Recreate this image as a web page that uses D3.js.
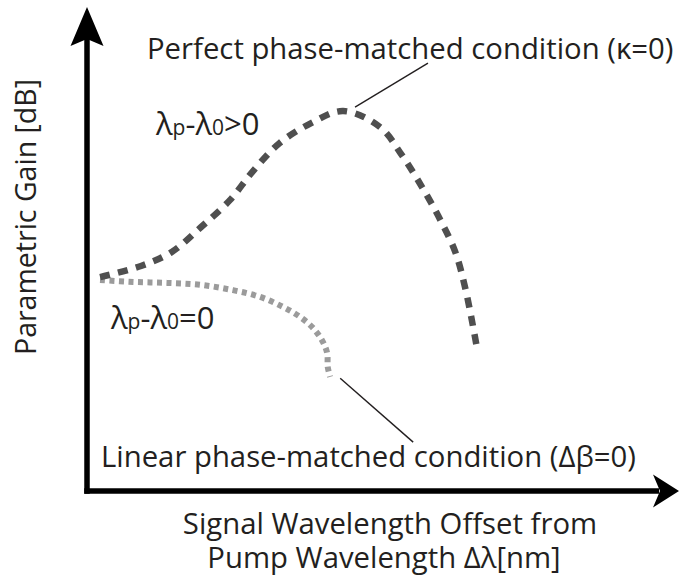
<!DOCTYPE html>
<html>
<head>
<meta charset="utf-8">
<script src="https://cdn.jsdelivr.net/npm/d3@7/dist/d3.min.js"></script>
<style>
  html, body { margin: 0; padding: 0; background: #fff; }
  svg { display: block; }
  text { font-family: "Open Sans", "DejaVu Sans", sans-serif; fill: #231f20; }
</style>
</head>
<body>
<svg id="chart" width="680" height="577"></svg>
<script>
// Schematic gain curves: parametric gain vs. signal offset from the pump
// (arbitrary units, 0..10 on both axes).

// λp − λ0 > 0 : perfect phase matching (κ = 0), dashed curve
const offsetPerfect = [0.22, 0.91, 1.43, 1.92, 2.41, 2.80, 3.25, 3.78, 4.32, 4.94, 5.31, 5.65, 5.95, 6.21, 6.39, 6.58];
const gainPerfect   = [4.42, 4.65, 4.94, 5.45, 6.01, 6.61, 7.19, 7.60, 7.85, 7.52, 6.94, 6.28, 5.62, 4.94, 4.13, 2.93];

// λp − λ0 = 0 : linear phase matching (Δβ = 0), dotted curve
const offsetLinear = [0.22, 0.78, 1.35, 1.91, 2.46, 2.92, 3.31, 3.59, 3.81, 3.96, 4.05, 4.06, 4.10];
const gainLinear   = [4.36, 4.32, 4.30, 4.26, 4.15, 4.01, 3.80, 3.60, 3.37, 3.12, 2.85, 2.56, 2.36];

// Leader lines from each curve to its description: [x0, y0, x1, y1]
const leaderPerfect = [4.52, 7.93, 5.75, 8.84];
const leaderLinear  = [4.27, 2.33, 5.50, 1.01];

const labels = {
  perfect: "Perfect phase-matched condition (\u03BA=0)",
  linear: "Linear phase-matched condition (\u0394\u03B2=0)",
  xTitle: ["Signal Wavelength Offset from", "Pump Wavelength \u0394\u03BB[nm]"],
  yTitle: "Parametric Gain [dB]"
};

const svg = d3.select("#chart");

const x = d3.scaleLinear().domain([0, 10]).range([87, 680]);
const y = d3.scaleLinear().domain([0, 10]).range([491, 7]);

// ---- axes with arrow heads ----
const axisW = 5.5;
const x0 = x(0), y0 = y(0);
const yTip = y(10), xTip = x(10) - 1;

svg.append("line")
  .attr("x1", x0).attr("y1", y0 + axisW / 2)
  .attr("x2", x0).attr("y2", yTip + 30)
  .attr("stroke", "#000").attr("stroke-width", axisW);
svg.append("line")
  .attr("x1", x0 - axisW / 2).attr("y1", y0)
  .attr("x2", xTip - 20).attr("y2", y0)
  .attr("stroke", "#000").attr("stroke-width", axisW);

// upward arrow head
svg.append("path")
  .attr("d", `M${x0},${yTip} L${x0 + 16.5},${yTip + 39} L${x0},${yTip + 32} L${x0 - 16.5},${yTip + 39} Z`)
  .attr("fill", "#000");
// rightward arrow head
svg.append("path")
  .attr("d", `M${xTip},${y0} L${xTip - 26},${y0 + 16.5} L${xTip - 19},${y0} L${xTip - 26},${y0 - 16.5} Z`)
  .attr("fill", "#000");

// ---- curves ----
const line = d3.line()
  .x(d => x(d[0]))
  .y(d => y(d[1]))
  .curve(d3.curveCatmullRom.alpha(0.5));

const perfectPts = offsetPerfect.map((v, i) => [v, gainPerfect[i]]);
const linearPts = offsetLinear.map((v, i) => [v, gainLinear[i]]);

svg.append("path")
  .datum(linearPts)
  .attr("d", line)
  .attr("fill", "none")
  .attr("stroke", "#9b9b9b")
  .attr("stroke-width", 6)
  .attr("stroke-dasharray", "5 4.5");

svg.append("path")
  .datum(perfectPts)
  .attr("d", line)
  .attr("fill", "none")
  .attr("stroke", "#4f4f4f")
  .attr("stroke-width", 6.5)
  .attr("stroke-dasharray", "10 8.5");

// ---- leader lines ----
[leaderPerfect, leaderLinear].forEach(l => {
  svg.append("line")
    .attr("x1", x(l[0])).attr("y1", y(l[1]))
    .attr("x2", x(l[2])).attr("y2", y(l[3]))
    .attr("stroke", "#231f20").attr("stroke-width", 1.4);
});

// ---- text ----
const fs = 29.3;

svg.append("text")
  .attr("x", 147).attr("y", 59)
  .attr("font-size", fs)
  .text(labels.perfect);

svg.append("text")
  .attr("x", 101).attr("y", 467)
  .attr("font-size", fs)
  .text(labels.linear);

// λp − λ0 labels with small subscripts
function lambdaLabel(px, py, tail) {
  const t = svg.append("text").attr("x", px).attr("y", py).attr("font-size", 31);
  t.append("tspan").text("\u03BB");
  t.append("tspan").attr("font-size", 21).text("p");
  t.append("tspan").text("-\u03BB");
  t.append("tspan").attr("font-size", 21).text("0");
  t.append("tspan").text(tail);
}
lambdaLabel(156, 135, ">0");
lambdaLabel(111, 329, "=0");

// axis titles
svg.append("text")
  .attr("x", 390).attr("y", 534)
  .attr("text-anchor", "middle")
  .attr("font-size", fs)
  .text(labels.xTitle[0]);
svg.append("text")
  .attr("x", 384).attr("y", 568)
  .attr("text-anchor", "middle")
  .attr("font-size", fs)
  .text(labels.xTitle[1]);

svg.append("text")
  .attr("transform", "translate(36,217) rotate(-90)")
  .attr("text-anchor", "middle")
  .attr("font-size", 28.5)
  .text(labels.yTitle);
</script>
</body>
</html>
